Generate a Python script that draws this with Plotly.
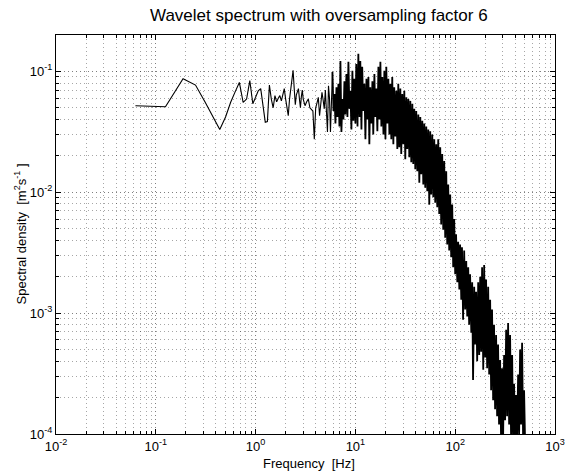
import plotly.graph_objects as go

# Low-frequency bins (df = 0.0625 Hz) and their spectral density
freq_low = [0.0625, 0.125, 0.1875, 0.25, 0.3125, 0.375, 0.4375, 0.5,
            0.5625, 0.625, 0.6875, 0.75, 0.8125, 0.875, 0.9375, 1.0,
            1.0625, 1.125, 1.1875, 1.25, 1.3125, 1.375, 1.4375, 1.5,
            1.5625, 1.625, 1.6875, 1.75, 1.8125, 1.875, 1.9375, 2.0,
            2.0625, 2.125, 2.1875, 2.25, 2.3125, 2.375, 2.4375, 2.5,
            2.5625, 2.625, 2.6875, 2.75, 2.8125, 2.875, 2.9375, 3.0]
psd_low = [0.052, 0.051, 0.087, 0.077, 0.0555, 0.042, 0.033, 0.042,
           0.0555, 0.068, 0.081, 0.0555, 0.059, 0.084, 0.054, 0.061,
           0.069, 0.072, 0.053, 0.038, 0.0385, 0.077, 0.059, 0.050,
           0.063, 0.056, 0.060, 0.063, 0.057, 0.064, 0.072, 0.059,
           0.049, 0.043, 0.059, 0.072, 0.088, 0.102, 0.072, 0.053,
           0.064, 0.069, 0.072, 0.059, 0.050, 0.062, 0.070, 0.059]

# Mid-frequency bins
freq_mid = [3.125, 3.25, 3.375, 3.5, 3.625, 3.75, 3.875, 4.0, 4.125, 4.25,
            4.375, 4.5, 4.625, 4.75, 4.875, 5.0, 5.125, 5.25, 5.375, 5.5,
            5.625, 5.75]
psd_mid = [0.052, 0.056, 0.059, 0.050, 0.048, 0.047, 0.0275, 0.050, 0.055, 0.061,
           0.043, 0.055, 0.067, 0.058, 0.049, 0.070, 0.050, 0.0315, 0.076, 0.060,
           0.0315, 0.065]

# High-frequency part of the spectrum
freq_high = [5.89, 6.03, 6.17, 6.31, 6.46, 6.61, 6.76, 6.92, 7.08, 7.24,
             7.41, 7.59, 7.76, 7.94, 8.13, 8.32, 8.51, 8.71, 8.91, 9.12,
             9.33, 9.55, 9.77,
             10.0, 10.2, 10.5, 10.7, 11.0, 11.2, 11.5, 11.7, 12.0, 12.3,
             12.6, 12.9, 13.2, 13.5, 13.8, 14.1, 14.5, 14.8, 15.1, 15.5,
             15.8, 16.2, 16.6, 17.0, 17.4, 17.8, 18.2, 18.6, 19.1, 19.5,
             20.0, 20.4, 20.9, 21.4, 21.9, 22.4, 22.9, 23.4, 24.0, 24.5,
             25.1, 25.7, 26.3, 26.9, 27.5, 28.2, 28.8, 29.5, 30.2, 30.9,
             31.6, 32.4, 33.1, 33.9, 34.7, 35.5, 36.3, 37.2, 38.0, 38.9,
             39.8, 40.7, 41.7, 42.7, 43.7, 44.7, 45.7, 46.8, 47.9, 49.0,
             50.1, 51.3, 52.5, 53.7, 55.0, 56.2, 57.5, 58.9, 60.3, 61.7,
             63.1, 64.6, 66.1, 67.6, 69.2, 70.8, 72.4, 74.1, 75.9, 77.6,
             79.4, 81.3, 83.2, 85.1, 87.1, 89.1, 91.2, 93.3, 95.5, 97.7,
             100, 102, 105, 107, 110, 112, 115, 117, 120, 123,
             126, 129, 132, 135, 138, 141, 145, 148, 151, 155,
             158, 162, 166, 170, 174, 178, 182, 186, 191, 195,
             200, 204, 209, 214, 219, 224, 229, 234, 240, 245,
             251, 257, 263, 269, 275, 282, 288, 295, 302, 309,
             316, 324, 331, 339, 347, 355, 363, 372, 380, 389,
             398, 407, 417, 427, 437, 447, 457, 468, 479, 490,
             501]
psd_high = [0.099, 0.047, 0.065, 0.037, 0.074, 0.042, 0.079, 0.035, 0.122, 0.0315,
            0.059, 0.040, 0.083, 0.044, 0.095, 0.042, 0.120, 0.049, 0.069, 0.033,
            0.101, 0.039, 0.087, 0.037, 0.115, 0.035, 0.140, 0.042, 0.122, 0.033,
            0.109, 0.047, 0.079, 0.0275, 0.087, 0.040, 0.090, 0.025, 0.074, 0.037,
            0.083, 0.030, 0.095, 0.042, 0.072, 0.032, 0.109, 0.040, 0.120, 0.035,
            0.090, 0.030, 0.101, 0.0275, 0.109, 0.037, 0.087, 0.030, 0.079, 0.0275,
            0.090, 0.025, 0.074, 0.029, 0.069, 0.0228, 0.079, 0.0236, 0.072, 0.0207,
            0.065, 0.025, 0.069, 0.0188, 0.061, 0.0228, 0.059, 0.0195, 0.057, 0.0177,
            0.054, 0.0171, 0.049, 0.0155, 0.047, 0.0149, 0.044, 0.0120, 0.042, 0.0141,
            0.039, 0.0116, 0.037, 0.0109, 0.035, 0.0102, 0.033, 0.0079, 0.032, 0.0096,
            0.030, 0.0091, 0.0275, 0.0082, 0.025, 0.0075, 0.0275, 0.0066, 0.0236, 0.0054,
            0.0207, 0.0049, 0.0181, 0.0042, 0.0149, 0.0037, 0.0116, 0.0033, 0.0096, 0.0029,
            0.0079, 0.0024, 0.0060, 0.0021, 0.0045, 0.0018, 0.0039, 0.00157, 0.0037, 0.00129,
            0.0035, 0.00088, 0.0033, 0.00107, 0.0027, 0.00094, 0.0024, 0.00080, 0.0021, 0.00069,
            0.0018, 0.00028, 0.00165, 0.00055, 0.0015, 0.00040, 0.0018, 0.00045, 0.0020, 0.00048,
            0.0024, 0.00034, 0.0025, 0.00043, 0.0019, 0.00035, 0.00165, 0.00031, 0.00129, 0.00023,
            0.00107, 0.00019, 0.00080, 0.00016, 0.00066, 0.00014, 0.00055, 0.00012, 0.00041, 0.00009,
            0.00035, 0.00009, 0.00045, 0.00013, 0.00073, 0.00014, 0.00083, 0.00012, 0.00066, 0.00009,
            0.00045, 0.00009, 0.00026, 0.00009, 0.00021, 0.00009, 0.00031, 0.00010, 0.00050, 0.00012,
            0.00057, 0.00009, 0.00023, 0.00009]

# Axis ticks
x_major = [1e-2, 1e-1, 1e0, 1e1, 1e2, 1e3]
x_labels = ["10<sup>-2</sup>", "10<sup>-1</sup>", "10<sup>0</sup>",
            "10<sup>1</sup>", "10<sup>2</sup>", "10<sup>3</sup>"]
y_major = [1e-4, 1e-3, 1e-2, 1e-1]
y_labels = ["10<sup>-4</sup>", "10<sup>-3</sup>", "10<sup>-2</sup>", "10<sup>-1</sup>"]

x_minor = [m * 10.0 ** e for e in range(-2, 3) for m in range(2, 10)]
y_minor = [m * 10.0 ** e for e in range(-4, 0) for m in range(2, 10) if m * 10.0 ** e <= 0.2]

# sparse section (thin line) joins onto the dense section (heavier stroke)
freq_sparse = freq_low + freq_mid + freq_high[:1]
psd_sparse = psd_low + psd_mid + psd_high[:1]

FONT = "Liberation Sans, Arial, Helvetica, sans-serif"

fig = go.Figure()
fig.add_trace(go.Scatter(x=freq_sparse, y=psd_sparse, mode="lines",
                         line=dict(color="black", width=1.1), hoverinfo="skip"))
fig.add_trace(go.Scatter(x=freq_high, y=psd_high, mode="lines",
                         line=dict(color="black", width=1.8), hoverinfo="skip"))

axis_common = dict(
    type="log",
    showline=True, linecolor="black", linewidth=1, mirror="ticks",
    ticks="inside", ticklen=5, tickcolor="black", tickwidth=1,
    showgrid=True, gridcolor="rgba(0,0,0,0.5)", griddash="1px,3px", gridwidth=1,
    zeroline=False,
    tickfont=dict(family=FONT, size=13, color="black"),
    tickmode="array",
)
minor_common = dict(tickmode="array", ticks="inside", ticklen=3,
                    tickcolor="black", showgrid=True,
                    gridcolor="rgba(0,0,0,0.35)", griddash="1px,3px", gridwidth=1)

fig.update_xaxes(
    **axis_common,
    range=[-2, 3],
    tickvals=x_major, ticktext=x_labels,
    minor=dict(tickvals=x_minor, **minor_common),
)
fig.update_yaxes(
    **axis_common,
    range=[-4, -0.699],
    tickvals=y_major, ticktext=y_labels,
    minor=dict(tickvals=y_minor, **minor_common),
)

fig.update_layout(
    width=577, height=472,
    margin=dict(l=56, r=14, t=35, b=38),
    paper_bgcolor="white", plot_bgcolor="white",
    showlegend=False,
    font=dict(family=FONT, color="black"),
    annotations=[
        dict(text="Wavelet spectrum with oversampling factor 6",
             xref="paper", yref="paper", x=0.5276, y=1, yshift=8,
             xanchor="center", yanchor="bottom", showarrow=False,
             font=dict(family=FONT, size=17, color="black")),
        dict(text="Frequency  [Hz]",
             xref="paper", yref="paper", x=0.507, y=0, yshift=-29,
             xanchor="center", yanchor="middle", showarrow=False,
             font=dict(family=FONT, size=13, color="black")),
        dict(text="Spectral density  [m<sup>2</sup>s<sup>-1</sup> ]",
             xref="paper", yref="paper", x=0, xshift=-36, y=0.5,
             xanchor="center", yanchor="middle", textangle=-90, showarrow=False,
             font=dict(family=FONT, size=13, color="black")),
    ],
)

fig.write_html("out.html")
